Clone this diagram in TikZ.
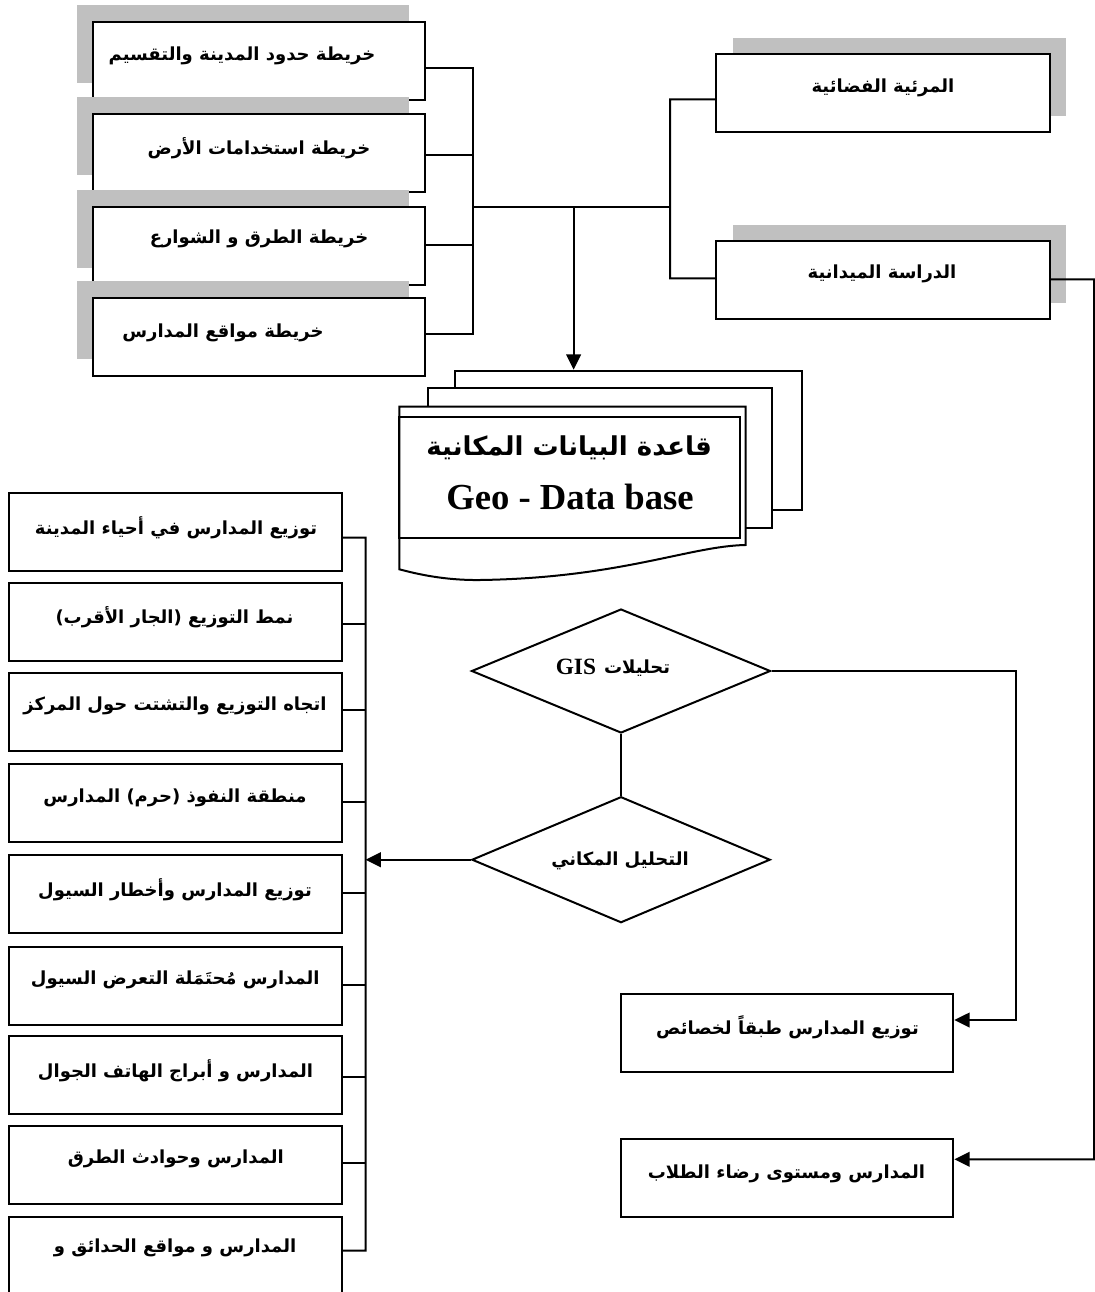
\documentclass[tikz,border=0pt]{standalone}
\usepackage{fontspec}
\setmainfont{Liberation Serif}
\newfontfamily\arfont[Script=Arabic]{DejaVu Sans}
\TeXXeTstate=1
\usetikzlibrary{shapes.geometric,arrows.meta,shadows,calc}
\definecolor{shadowgray}{RGB}{192,192,192}
\newcommand{\AR}[1]{\beginR #1\endR}
\begin{document}
\begin{tikzpicture}[x=0.75pt,y=-0.75pt,line width=1.5pt,
  box/.style={draw, fill=white, minimum width=332.6*0.75pt, minimum height=78*0.75pt, inner sep=0pt},
  tlshadow/.style={general shadow={fill=shadowgray, shadow xshift=-12pt, shadow yshift=12.5pt}},
  trshadow/.style={general shadow={fill=shadowgray, shadow xshift=12.5pt, shadow yshift=12pt}},
  txt/.style={inner sep=0pt, font=\arfont\bfseries\fontsize{13.5}{16}\selectfont},
  dia/.style={diamond, draw, fill=white, inner sep=0pt},
  arr/.style={-{Triangle[length=11.5pt,width=11pt]}}]
\useasboundingbox (0,0) rectangle (1095,1292);

% ---------- top-left map boxes ----------
\node[box,tlshadow] (m1) at (259,60.7) {};
\node[box,tlshadow] (m2) at (259,152.5) {};
\node[box,tlshadow] (m3) at (259,245.5) {};
\node[box,tlshadow] (m4) at (259,337) {};
\node[txt] (tm1) at (242,56) {\AR{خريطة حدود المدينة والتقسيم}};
\node[txt] (tm2) at (259,147.7) {\AR{خريطة استخدامات الأرض}};
\node[txt] (tm3) at (259,239.3) {\AR{خريطة الطرق و الشوارع}};
\node[txt] (tm4) at (223,332.7) {\AR{خريطة مواقع المدارس}};

% ---------- top-right boxes ----------
\node[box,trshadow,minimum width=333.3*0.75pt] (sa) at (883,93.2) {};
\node[box,trshadow,minimum width=333.3*0.75pt] (sb) at (883,280) {};
\node[txt] (tsa) at (883,87.7) {\AR{المرئية الفضائية}};
\node[txt] (tsb) at (882,274.3) {\AR{الدراسة الميدانية}};

% ---------- connectors at top ----------
\coordinate (bt1) at (472.7,67.7);
\coordinate (bt4) at (472.7,334);
\coordinate (jL) at (472.7,206.7);
\coordinate (jD) at (573.6,206.7);
\coordinate (jR) at (670.2,206.7);
\coordinate (br1) at (670.2,99.3);
\coordinate (br2) at (670.2,278.3);
\draw ($(m1.east)+(0,7)$) -- (bt1) -- (bt4) -- ($(m4.east)+(0,-3)$);
\draw ($(m2.east)+(0,2.5)$) -- ++(47.4,0);
\draw ($(m3.east)+(0,-0.5)$) -- ++(47.4,0);
\draw (jL) -- (jR);
\draw ($(sa.west)+(0,6.1)$) -- (br1) -- (br2) -- ($(sb.west)+(0,-1.7)$);

% ---------- database (multi-document) ----------
\node[draw, fill=white, minimum width=346.7*0.75pt, minimum height=139.3*0.75pt, inner sep=0pt] (dbb) at (628.35,440.35) {};
\node[draw, fill=white, minimum width=344*0.75pt, minimum height=139.7*0.75pt, inner sep=0pt] (dbm) at (599.7,458.15) {};
\draw[fill=white] (399.3,406.7) -- (745.5,406.7) -- (745.5,545)
  .. controls (690,546) and (620,578) .. (480,580)
  .. controls (440,580.5) and (410,572) .. (399.3,569.3) -- cycle;
\draw (399.3,417.3) rectangle (740,537.7);
\node[inner sep=0pt, font=\arfont\bfseries\fontsize{19.5}{23}\selectfont] (dbt1) at (569.2,448.3) {\AR{قاعدة البيانات المكانية}};
\node[inner sep=0pt, font=\bfseries\fontsize{27.5}{32}\selectfont] (dbt2) at (570,496.7) {Geo - Data base};
\draw[arr] (jD) -- (jD |- dbb.north);

% ---------- diamonds ----------
\node[dia, minimum width=299*0.75pt, minimum height=124*0.75pt] (d1) at (621,671) {};
\node[dia, minimum width=298.3*0.75pt, minimum height=126*0.75pt] (d2) at (621,859.7) {};
\node[txt, anchor=west] (td1a) at (603,667.7) {\AR{تحليلات}};
\node[inner sep=0pt, anchor=east, font=\bfseries\fontsize{17.5}{20}\selectfont] (td1b) at (597,666.7) {GIS};
\node[txt] (td2) at (620,861) {\AR{التحليل المكاني}};
\draw (d1.south) -- (d2.north);

% ---------- left column ----------
\node[box] (l1) at (175.35,532.2) {};
\node[box] (l2) at (175.35,621.9) {};
\node[box] (l3) at (175.35,711.5) {};
\node[box] (l4) at (175.35,802.9) {};
\node[box] (l5) at (175.35,894.2) {};
\node[box] (l6) at (175.35,985.9) {};
\node[box] (l7) at (175.35,1075.2) {};
\node[box] (l8) at (175.35,1165) {};
\node[box] (l9) at (175.35,1255.5) {};
\node[txt] (tl1) at (176,527.7) {\AR{توزيع المدارس في أحياء المدينة}};
\node[txt] (tl2) at (174.5,617) {\AR{نمط التوزيع (الجار الأقرب)}};
\node[txt] (tl3) at (175,706) {\AR{اتجاه التوزيع والتشتت حول المركز}};
\node[txt] (tl4) at (175,797.7) {\AR{منطقة النفوذ (حرم) المدارس}};
\node[txt] (tl5) at (175,889.3) {\AR{توزيع المدارس وأخطار السيول}};
\node[txt] (tl6) at (175.3,980.3) {\AR{المدارس مُحتَمَلة التعرض السيول}};
\node[txt] (tl7) at (175.5,1071) {\AR{المدارس و أبراج الهاتف الجوال}};
\node[txt] (tl8) at (175.8,1159.3) {\AR{المدارس وحوادث الطرق}};
\node[txt] (tl9) at (175,1247.7) {\AR{المدارس و مواقع الحدائق و}};

\coordinate (bl1) at (365.5,537.7);
\coordinate (bl9) at (365.5,1250.7);
\draw ($(l1.east)+(0,5.5)$) -- (bl1) -- (bl9) -- ($(l9.east)+(0,-4.8)$);
\foreach \n/\dy in {l2/2,l3/-1.5,l4/-1.2,l5/-0.9,l6/-0.9,l7/1.5,l8/-2.3}
  \draw ($(\n.east)+(0,\dy)$) -- ++(23.8,0);
\draw[arr] (d2.west) -- (d2.west -| bl1);

% ---------- right result boxes ----------
\node[box, minimum width=332.3*0.75pt] (r1) at (787.2,1032.5) {};
\node[box, minimum width=332.3*0.75pt] (r2) at (787.2,1177.5) {};
\node[txt] (tr1) at (787.5,1027.7) {\AR{توزيع المدارس طبقاً لخصائص}};
\node[txt] (tr2) at (786.5,1174.3) {\AR{المدارس ومستوى رضاء الطلاب}};

\coordinate (c1) at (1015.7,671);
\coordinate (c2) at (1015.7,1020);
\draw[arr] (d1.east) -- (c1) -- (c2) -- ($(r1.east)+(0,-12.5)$);
\coordinate (c3) at (1094,279.3);
\coordinate (c4) at (1094,1159.3);
\draw[arr] ($(sb.east)+(0,-0.7)$) -- (c3) -- (c4) -- ($(r2.east)+(0,-18.2)$);
\end{tikzpicture}
\end{document}
